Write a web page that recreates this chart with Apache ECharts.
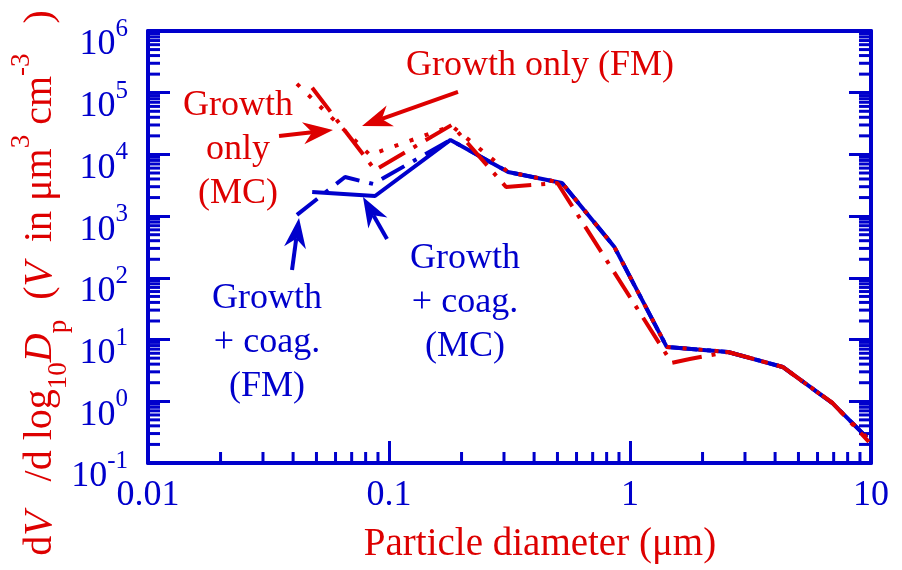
<!DOCTYPE html>
<html><head><meta charset="utf-8">
<script src="https://cdn.jsdelivr.net/npm/echarts@6/dist/echarts.min.js"></script>
<style>html,body{margin:0;padding:0;background:#fff}#c{width:902px;height:570px}</style>
</head><body><div id="c"></div>
<script>
const BLUE = '#0000cc', RED = '#dd0000';
const FONT = '"Liberation Serif","Times New Roman",serif';

// ---- tick labels ----
const xTickLabels = ['0.01', '0.1', '1', '10'];
const yTickExponents = [-1, 0, 1, 2, 3, 4, 5, 6];
const minorMultipliers = [2, 3, 4, 5, 6, 7, 8, 9];

// ---- data (particle diameter in um, dV/dlog10Dp) ----
// Growth + coag. (MC) - blue solid
const coagMC_x = [0.048, 0.0875, 0.18, 0.312, 0.522, 0.86, 1.42, 2.55, 4.3, 6.9, 9.6];
const coagMC_y = [2470, 2120, 17200, 5200, 3450, 320, 7.6, 6.3, 3.6, 0.94, 0.26];
// Growth + coag. (FM) - blue dash-dot
const coagFM_x = [0.0415, 0.0657, 0.0859, 0.18, 0.312, 0.522, 0.86, 1.42, 2.55, 4.3, 6.9, 9.6];
const coagFM_y = [1050, 4300, 3330, 17200, 5200, 3450, 320, 7.6, 6.3, 3.6, 0.94, 0.26];
// Growth only (MC) - red dash-dot
const growthMC_x = [0.048, 0.0875, 0.182, 0.306, 0.5, 1.49, 1.77, 2.55, 4.3, 6.9, 9.8];
const growthMC_y = [120000, 5600, 30000, 2970, 3450, 4.2, 4.85, 6.3, 3.6, 0.95, 0.22];
// Growth only (FM) - red dotted
const growthFM_x = [0.0415, 0.0833, 0.182, 0.312, 0.522, 0.86, 1.42, 2.55, 4.3, 6.9, 9.6];
const growthFM_y = [139000, 9800, 29000, 5200, 3450, 320, 7.6, 6.3, 3.6, 0.94, 0.26];

// ---- annotation arrows (data space: tail -> tip) ----
const arrowGrowthMC = { from: [0.03497, 19950], to: [0.05856, 24950], color: RED };
const arrowGrowthFM = { from: [0.1933, 103000], to: [0.07727, 28970], color: RED };
const arrowCoagFM = { from: [0.03959, 134], to: [0.04233, 935], color: BLUE };
const arrowCoagMC = { from: [0.09811, 427], to: [0.07799, 2047], color: BLUE };

function pairs(xs, ys) { return xs.map((x, i) => [x, ys[i]]); }

const minorTickData = [];
for (let e = -1; e <= 5; e++) for (const m of minorMultipliers) {
  const v = m * Math.pow(10, e);
  minorTickData.push([0.01, v, 0]);
  minorTickData.push([10, v, 1]);
}
for (let e = -2; e <= 0; e++) for (const m of minorMultipliers) {
  minorTickData.push([m * Math.pow(10, e), 0.1, 2]);
}

const chart = echarts.init(document.getElementById('c'));
const option = {
  animation: false,
  backgroundColor: '#fff',
  grid: { left: 148, right: 31, top: 31, bottom: 107, containLabel: false },
  xAxis: [{
    type: 'log', logBase: 10, min: 0.01, max: 10, splitNumber: 3, position: 'bottom',
    axisLine: { show: true, onZero: false, lineStyle: { color: BLUE, width: 4 } },
    axisTick: { show: true, inside: true, length: 22, lineStyle: { color: BLUE, width: 3 } },
    minorTick: { show: false }, splitLine: { show: false },
    axisLabel: { color: BLUE, fontFamily: FONT, fontSize: 36, margin: 15,
      formatter: v => xTickLabels[Math.round(Math.log10(v)) + 2] }
  }, {
    type: 'log', logBase: 10, min: 0.01, max: 10, position: 'top',
    axisLine: { show: true, onZero: false, lineStyle: { color: BLUE, width: 4 } },
    axisTick: { show: false }, axisLabel: { show: false }, splitLine: { show: false }
  }],
  yAxis: [{
    type: 'log', logBase: 10, min: 0.1, max: 1e6, splitNumber: 7, position: 'left',
    axisLine: { show: true, onZero: false, lineStyle: { color: BLUE, width: 4 } },
    axisTick: { show: true, inside: true, length: 22, lineStyle: { color: BLUE, width: 3 } },
    minorTick: { show: false }, splitLine: { show: false },
    axisLabel: {
      margin: 20, padding: [28, 0, 0, 0],
      formatter: v => {
        const e = Math.round(Math.log10(v));
        const k = yTickExponents.indexOf(e);
        return '{b|10}{s|' + yTickExponents[k] + '}';
      },
      rich: {
        b: { color: BLUE, fontFamily: FONT, fontSize: 36, lineHeight: 56 },
        s: { color: BLUE, fontFamily: FONT, fontSize: 25, lineHeight: 25, verticalAlign: 'top' }
      }
    }
  }, {
    type: 'log', logBase: 10, min: 0.1, max: 1e6, splitNumber: 7, position: 'right',
    axisLine: { show: true, onZero: false, lineStyle: { color: BLUE, width: 4 } },
    axisTick: { show: true, inside: true, length: 22, lineStyle: { color: BLUE, width: 3 } },
    axisLabel: { show: false }, splitLine: { show: false }
  }],
  series: [
    { type: 'custom', name: 'minorTicks', xAxisIndex: 0, yAxisIndex: 0, clip: false, silent: true,
      dimensions: ['x', 'y', 'side'], encode: { x: 0, y: 1 },
      data: minorTickData,
      renderItem: (params, api) => {
        const side = api.value(2);
        const p = api.coord([api.value(0), api.value(1)]);
        let x2 = p[0], y2 = p[1];
        if (side === 0) x2 = p[0] + 12; else if (side === 1) x2 = p[0] - 12; else y2 = p[1] - 11;
        return { type: 'line', shape: { x1: p[0], y1: p[1], x2: x2, y2: y2 },
          style: { stroke: BLUE, lineWidth: 3 } };
      }
    },
    { type: 'line', name: 'Growth + coag. (FM)', data: pairs(coagFM_x, coagFM_y), symbol: 'none',
      lineStyle: { color: BLUE, width: 4, type: [26, 10, 4, 10] } },
    { type: 'line', name: 'Growth + coag. (MC)', data: pairs(coagMC_x, coagMC_y), symbol: 'none',
      lineStyle: { color: BLUE, width: 4, type: 'solid' } },
    { type: 'line', name: 'Growth only (FM)', data: pairs(growthFM_x, growthFM_y), symbol: 'none',
      lineStyle: { color: RED, width: 4, type: [4, 12] } },
    { type: 'line', name: 'Growth only (MC)', data: pairs(growthMC_x, growthMC_y), symbol: 'none',
      lineStyle: { color: RED, width: 4, type: [30, 10, 4, 10] } }
  ]
};
chart.setOption(option);

function arrowGraphic(a) {
  const p1 = chart.convertToPixel({ gridIndex: 0 }, a.from);
  const p2 = chart.convertToPixel({ gridIndex: 0 }, a.to);
  const dx = p2[0] - p1[0], dy = p2[1] - p1[1];
  const len = Math.sqrt(dx * dx + dy * dy);
  const ux = dx / len, uy = dy / len, nx = -uy, ny = ux;
  const L = 30, W = 11, N = 9;
  const bx = p2[0] - ux * L, by = p2[1] - uy * L;
  const notch = [p2[0] - ux * (L - N), p2[1] - uy * (L - N)];
  return [
    { type: 'line', shape: { x1: p1[0], y1: p1[1], x2: notch[0], y2: notch[1] },
      style: { stroke: a.color, lineWidth: 4 }, z: 100 },
    { type: 'polygon', shape: { points: [p2, [bx + nx * W, by + ny * W], notch, [bx - nx * W, by - ny * W]] },
      style: { fill: a.color }, z: 100 }
  ];
}

function label(x, y, text, color) {
  return { type: 'text', x: x, y: y, z: 100,
    style: { text: text, fill: color, font: '36px ' + FONT, align: 'center', textAlign: 'center',
      verticalAlign: 'top', textVerticalAlign: 'top', lineHeight: 44 } };
}

const graphics = [].concat(
  arrowGraphic(arrowGrowthMC), arrowGraphic(arrowGrowthFM),
  arrowGraphic(arrowCoagFM), arrowGraphic(arrowCoagMC),
  [
    label(540, 44, 'Growth only (FM)', RED),
    label(238, 84, 'Growth\nonly\n(MC)', RED),
    label(267, 277, 'Growth\n+ coag.\n(FM)', BLUE),
    label(465, 237, 'Growth\n+ coag.\n(MC)', BLUE),
    { type: 'text', x: 540, y: 545, z: 100,
      style: { text: 'Particle diameter (μm)', fill: RED, font: '39px ' + FONT,
        align: 'center', textAlign: 'center', verticalAlign: 'middle', textVerticalAlign: 'middle' } },
    { type: 'text', x: 40, y: 283, rotation: Math.PI / 2, z: 100,
      style: {
        text: '{n|d}{i|V}{n|   /d log}{sub|10}{i|D}{sub|p}{n|  (}{i|V}{n|  in μm}{sup|3}{n| cm}{sup|-3}{n|   )}',
        align: 'center', textAlign: 'center', verticalAlign: 'middle', textVerticalAlign: 'middle',
        fill: RED, font: '40px ' + FONT,
        rich: {
          n: { fill: RED, fontFamily: FONT, fontSize: 40, lineHeight: 64 },
          i: { fill: RED, fontFamily: FONT, fontSize: 40, fontStyle: 'italic', lineHeight: 64 },
          sub: { fill: RED, fontFamily: FONT, fontSize: 27, lineHeight: 27, verticalAlign: 'bottom' },
          sup: { fill: RED, fontFamily: FONT, fontSize: 27, lineHeight: 27, verticalAlign: 'top' }
        }
      } }
  ]
);
chart.setOption({ graphic: graphics });
</script>
</body></html>
